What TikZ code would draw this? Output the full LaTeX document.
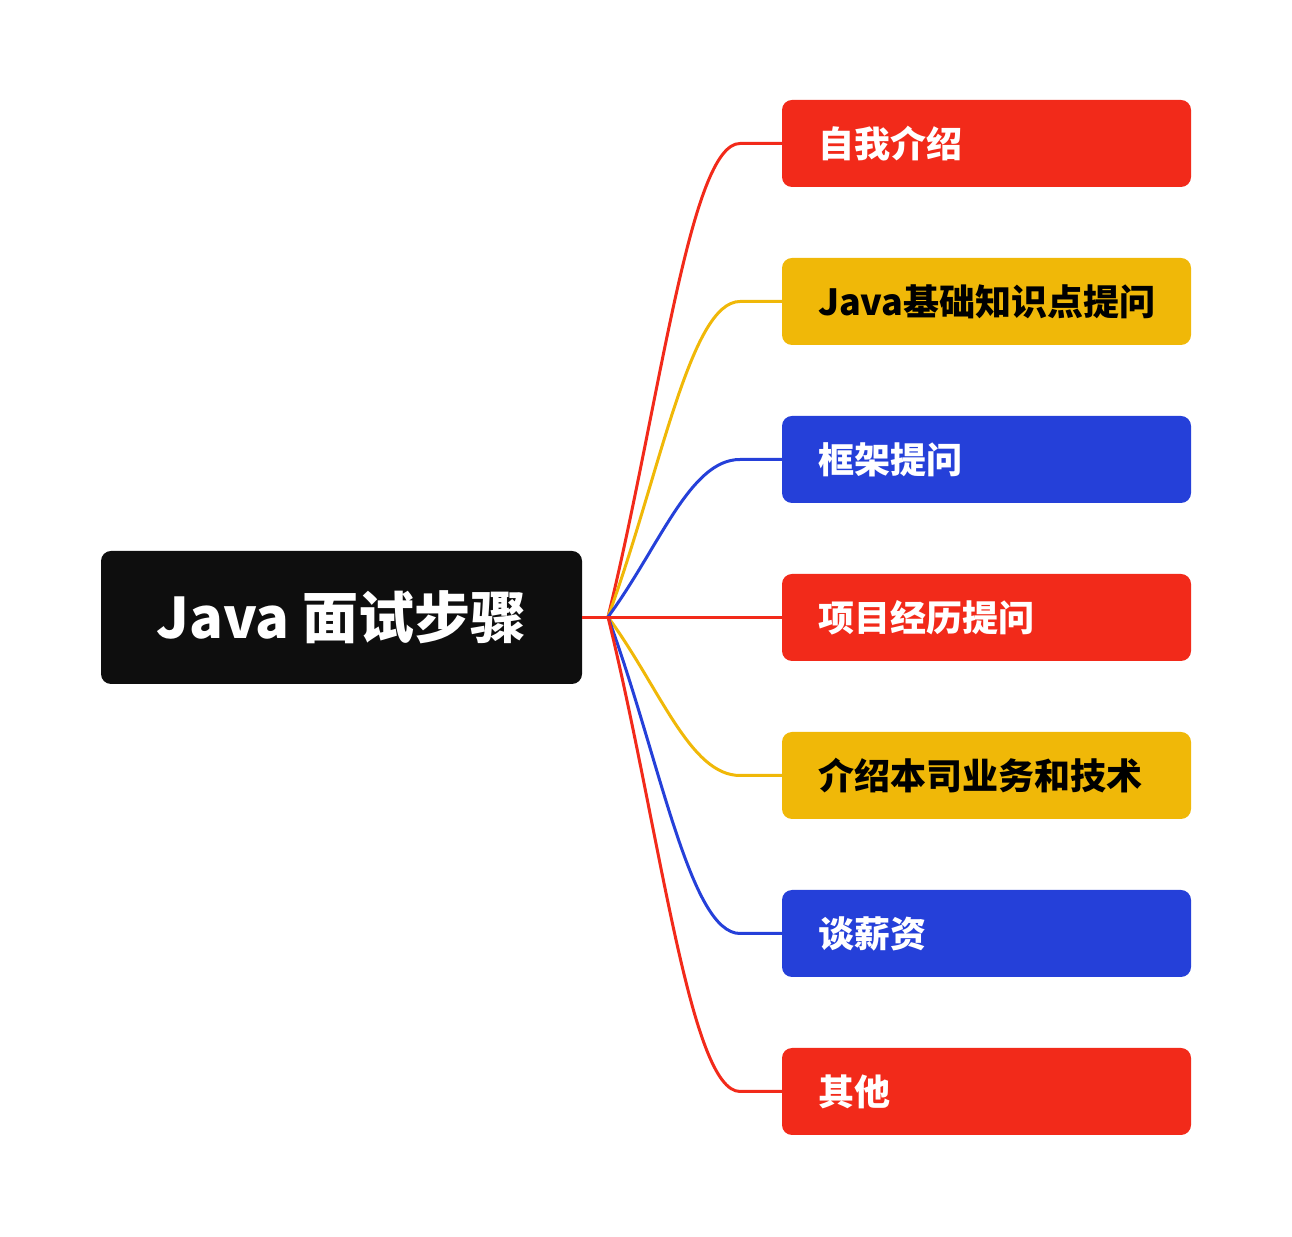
\documentclass[tikz,border=0pt]{standalone}
\usepackage{fontspec}
\newfontfamily\cjk{Noto Sans CJK SC}
\definecolor{mred}{HTML}{F22A1A}
\definecolor{myel}{HTML}{F0B808}
\definecolor{mblue}{HTML}{2540D9}
\definecolor{mdark}{HTML}{0E0E0E}
\tikzset{
  rootbox/.style={fill=mdark, rounded corners=10pt, minimum width=481pt, minimum height=133pt, inner sep=0pt,
    text=white, font=\cjk\bfseries\fontsize{56}{60}\selectfont},
  childbox/.style={rounded corners=10pt, minimum height=87pt, text width=337pt, inner xsep=36pt, inner ysep=0pt,
    align=left, font=\cjk\bfseries\fontsize{36}{40}\selectfont},
  conn/.style={line width=3pt},
}
\begin{document}
\begin{tikzpicture}[x=1pt,y=1pt]
\useasboundingbox (0,0) rectangle (1292,1236);
\node[rootbox] (root) at (341.5,618.5) {Java 面试步骤};
\coordinate (hub) at (608,619);
\node[childbox, fill=mred, text=white] (c1) at (986.5,1092.5) {自我介绍};
\node[childbox, fill=myel, text=black] (c2) at (986.5,934.5) {Java基础知识点提问};
\node[childbox, fill=mblue, text=white] (c3) at (986.5,776.5) {框架提问};
\node[childbox, fill=mred, text=white] (c4) at (986.5,618.5) {项目经历提问};
\node[childbox, fill=myel, text=black] (c5) at (986.5,460.5) {介绍本司业务和技术};
\node[childbox, fill=mblue, text=white] (c6) at (986.5,302.5) {谈薪资};
\node[childbox, fill=mred, text=white] (c7) at (986.5,144.5) {其他};
\draw[conn, mred] (hub) .. controls (660,832) and (690,1092.5) .. (740,1092.5) -- (c1.west);
\draw[conn, myel] (hub) .. controls (660,761) and (690,934.5) .. (740,934.5) -- (c2.west);
\draw[conn, mblue] (hub) .. controls (660,690) and (690,776.5) .. (740,776.5) -- (c3.west);
\draw[conn, myel] (hub) .. controls (660,548) and (690,460.5) .. (740,460.5) -- (c5.west);
\draw[conn, mblue] (hub) .. controls (660,477) and (690,302.5) .. (740,302.5) -- (c6.west);
\draw[conn, mred] (hub) .. controls (660,406) and (690,144.5) .. (740,144.5) -- (c7.west);
\draw[conn, mred] (root.east) -- (c4.west);
\end{tikzpicture}
\end{document}
